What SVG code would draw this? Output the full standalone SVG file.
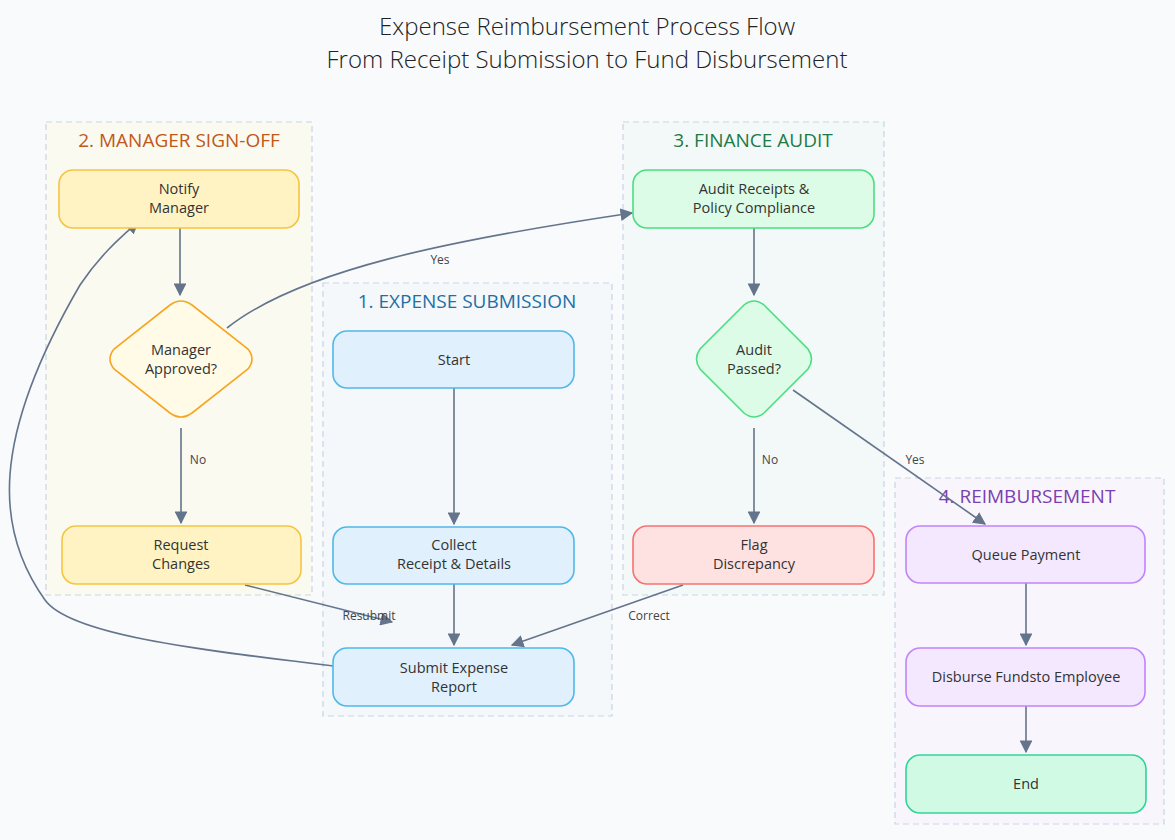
<svg xmlns="http://www.w3.org/2000/svg" width="1175" height="840" viewBox="0 0 1175 840">
<defs>
<marker id="ah" viewBox="0 0 10 10" refX="9" refY="5" markerWidth="8" markerHeight="8" orient="auto-start-reverse"><path d="M0,0 L10,5 L0,10 z" fill="#64748b"/></marker>
<style>
text{font-family:"Open Sans","Noto Sans",sans-serif;fill:#333;}
.t{font-size:24px;text-anchor:middle;font-weight:300;fill:#222}
.n{font-size:14.5px;text-anchor:middle}
.c{stroke:#c9d6e2;stroke-dasharray:6 4;stroke-width:1.2}
.ct{font-size:19px;text-anchor:middle}
.e{fill:none;stroke:#64748b;stroke-width:1.6;marker-end:url(#ah)}
.l{font-size:12px;text-anchor:middle;fill:#444}
.y{fill:#fff3c4;stroke:#f5c542;stroke-width:1.6}
.b{fill:#e0f0fc;stroke:#4fb8ea;stroke-width:1.6}
.g{fill:#dcfce7;stroke:#4ade80;stroke-width:1.6}
.p{fill:#f3e8ff;stroke:#c084fc;stroke-width:1.6}
</style>
</defs>
<rect width="1175" height="840" fill="#f8fafc"/>
<text class="t" x="587" y="35">Expense Reimbursement Process Flow</text>
<text class="t" x="587" y="68">From Receipt Submission to Fund Disbursement</text>
<g id="clusters">
<rect class="c" x="46" y="122" width="266" height="473" fill="#fafaf1"/>
<text class="ct" x="179" y="147" style="fill:#c0581a">2. MANAGER SIGN-OFF</text>
<rect class="c" x="623" y="122" width="261" height="473" fill="#f2f9f8"/>
<text class="ct" x="753" y="147" style="fill:#1e7a46">3. FINANCE AUDIT</text>
<rect class="c" x="323" y="283" width="289" height="433" fill="#f4f8fb"/>
<text class="ct" x="467" y="308" style="fill:#1f6fa3">1. EXPENSE SUBMISSION</text>
<rect class="c" x="895" y="478" width="269" height="346" fill="#f8f6fc"/>
<text class="ct" x="1027" y="503" style="fill:#7b3fb0">4. REIMBURSEMENT</text>
</g>
<g id="connectors">
<path class="e" d="M180,228 L180,295"/>
<path class="e" d="M181,428 L181,523"/>
<text class="l" x="198" y="464">No</text>
<path class="e" d="M227,328 C300,270 450,240 632,213"/>
<text class="l" x="440" y="264">Yes</text>
<path class="e" d="M454,388 L454,524"/>
<path class="e" d="M454,584 L454,645"/>
<path class="e" d="M245,585 L392,622"/>
<text class="l" x="369" y="620">Resubmit</text>
<path class="e" d="M683,585 L512,645"/>
<text class="l" x="649" y="620">Correct</text>
<path class="e" d="M333,666 C200,650 70,635 45,600 C-5,530 -10,440 80,285 C100,255 120,238 138,222"/>
<path class="e" d="M754,228 L754,295"/>
<path class="e" d="M754,428 L754,523"/>
<text class="l" x="770" y="464">No</text>
<path class="e" d="M793,390 L985,524"/>
<text class="l" x="915" y="464">Yes</text>
<path class="e" d="M1026,583 L1026,645"/>
<path class="e" d="M1026,706 L1026,752"/>
</g>
<g id="notify"><rect class="y" x="59" y="170" width="240" height="58" rx="14"/><text class="n" x="179" y="194">Notify</text><text class="n" x="179" y="213">Manager</text></g>
<g id="mgr"><path d="M170,305 Q181,297 192,305 L248,349 Q256,359 248,369 L192,413 Q181,421 170,413 L114,369 Q106,359 114,349 Z" fill="#fffbe6" stroke="#f5a623" stroke-width="1.6"/><text class="n" x="181" y="355">Manager</text><text class="n" x="181" y="374">Approved?</text></g>
<g id="request"><rect class="y" x="62" y="526" width="239" height="58" rx="14"/><text class="n" x="181" y="550">Request</text><text class="n" x="181" y="569">Changes</text></g>
<g id="start"><rect class="b" x="333" y="331" width="241" height="57" rx="14"/><text class="n" x="454" y="365">Start</text></g>
<g id="collect"><rect class="b" x="333" y="527" width="241" height="57" rx="14"/><text class="n" x="454" y="550">Collect</text><text class="n" x="454" y="569">Receipt &amp; Details</text></g>
<g id="submit"><rect class="b" x="333" y="648" width="241" height="58" rx="14"/><text class="n" x="454" y="673">Submit Expense</text><text class="n" x="454" y="692">Report</text></g>
<g id="auditr"><rect class="g" x="633" y="170" width="241" height="58" rx="14"/><text class="n" x="754" y="194">Audit Receipts &amp;</text><text class="n" x="754" y="213">Policy Compliance</text></g>
<g id="auditq"><path d="M744,305 Q754,297 764,305 L808,349 Q815,359 808,369 L764,413 Q754,421 744,413 L700,369 Q693,359 700,349 Z" fill="#dcfce7" stroke="#4ade80" stroke-width="1.6"/><text class="n" x="754" y="355">Audit</text><text class="n" x="754" y="374">Passed?</text></g>
<g id="flag"><rect x="633" y="526" width="241" height="58" rx="14" fill="#fee2e2" stroke="#f87171" stroke-width="1.6"/><text class="n" x="754" y="550">Flag</text><text class="n" x="754" y="569">Discrepancy</text></g>
<g id="queue"><rect class="p" x="906" y="526" width="239" height="57" rx="14"/><text class="n" x="1026" y="560">Queue Payment</text></g>
<g id="disburse"><rect class="p" x="906" y="648" width="239" height="58" rx="14"/><text class="n" x="1026" y="682">Disburse Fundsto Employee</text></g>
<g id="end"><rect x="906" y="755" width="240" height="58" rx="14" fill="#d1fae5" stroke="#34d399" stroke-width="1.6"/><text class="n" x="1026" y="789">End</text></g>
</svg>
